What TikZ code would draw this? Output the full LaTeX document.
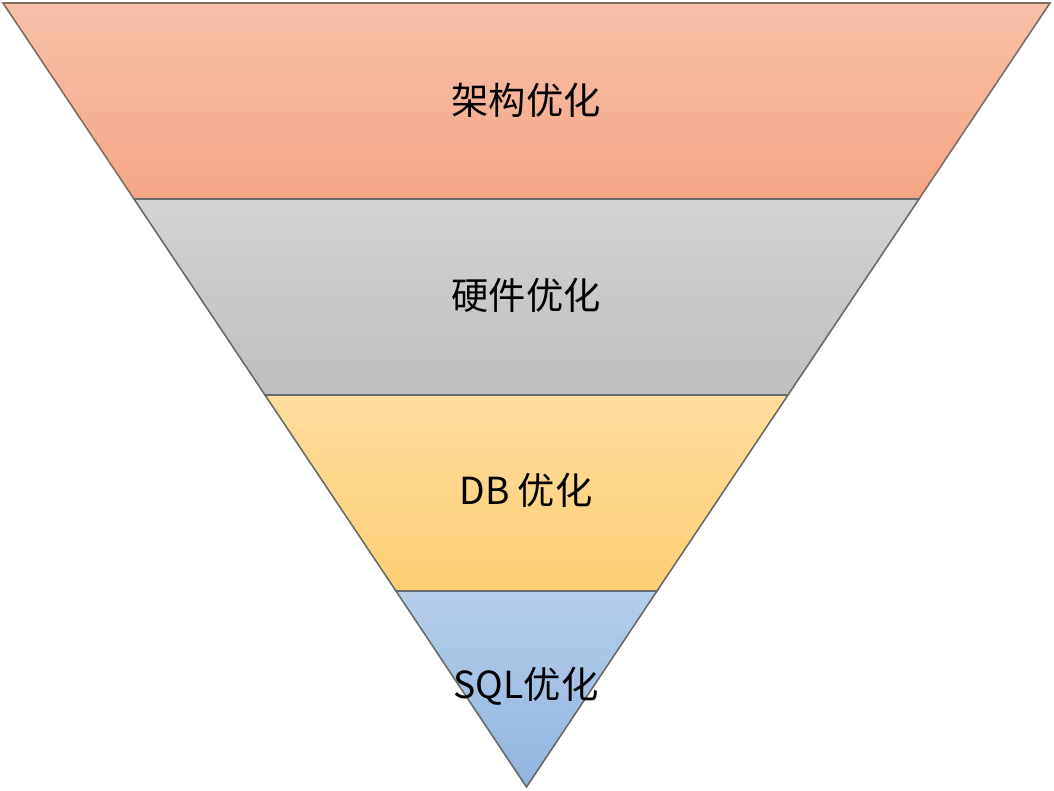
\documentclass[tikz,border=0pt]{standalone}
\usepackage{fontspec}
\newfontfamily\cjk{Noto Sans CJK SC}
\usetikzlibrary{positioning}
\definecolor{archtop}{HTML}{F8C1A9}
\definecolor{archbot}{HTML}{F5A584}
\definecolor{hwtop}{HTML}{D4D4D4}
\definecolor{hwbot}{HTML}{BEBEBE}
\definecolor{dbtop}{HTML}{FFDC9E}
\definecolor{dbbot}{HTML}{FDCF74}
\definecolor{sqltop}{HTML}{B5CEEA}
\definecolor{sqlbot}{HTML}{91B4E0}
\definecolor{edge}{HTML}{6A6A6A}

\begin{document}
\begin{tikzpicture}[
		x=0.01cm, y=-0.01cm,
		band/.style={draw=edge, line width=0.45pt},
		every node/.style={
			font=\cjk\fontsize{10.6}{12}\selectfont,
			align=center
		}
		]
		\useasboundingbox (0,0) rectangle (1054,791);
		
		% funnel corners
		\coordinate (tl) at (3,3);
		\coordinate (tr) at (1050,3);
		\coordinate (l1) at (134,199);
		\coordinate (r1) at (919,199);
		\coordinate (l2) at (265,395);
		\coordinate (r2) at (788,395);
		\coordinate (l3) at (396,591);
		\coordinate (r3) at (657,591);
		\coordinate (tip) at (526.5,787);
		
		\shade[band, top color=archtop, bottom color=archbot, draw=edge!80!brown]
		(tl)--(tr)--(r1)--(l1)--cycle;
		\shade[band, top color=hwtop, bottom color=hwbot]
		(l1)--(r1)--(r2)--(l2)--cycle;
		\shade[band, top color=dbtop, bottom color=dbbot]
		(l2)--(r2)--(r3)--(l3)--cycle;
		\shade[band, top color=sqltop, bottom color=sqlbot]
		(l3)--(r3)--(tip)--cycle;
		
		\node (arch) at (526,100) {架构优化};
		\node (hw) at (526,295) {硬件优化};
		\node (db) at (526,490) {DB 优化};
		\node (sql) at (526,686) {SQL优化};
		
	\end{tikzpicture}
\end{document}
